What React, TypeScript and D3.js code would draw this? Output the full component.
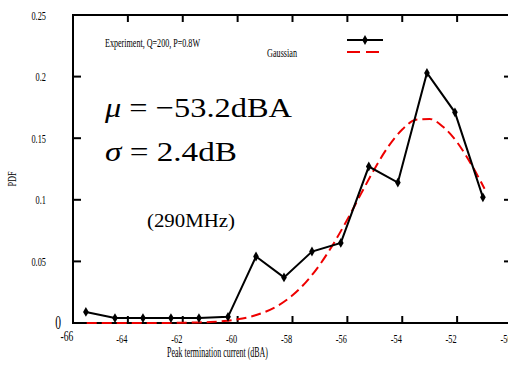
import * as d3 from "d3";

// experiment: bin centers (dBA) and measured PDF
const expX = [-65.53, -64.47, -63.45, -62.43, -61.41, -60.35, -59.33, -58.31, -57.29, -56.24, -55.22, -54.16, -53.1, -52.08, -51.06];
const expPdf = [0.009, 0.004, 0.004, 0.004, 0.004, 0.005, 0.054, 0.037, 0.058, 0.065, 0.127, 0.114, 0.203, 0.171, 0.102];

// gaussian fit
const fitX = [-65.5, -65, -64.5, -64, -63.5, -63, -62.5, -62, -61.5, -61, -60.5, -60, -59.5, -59, -58.5, -58, -57.5, -57, -56.5, -56, -55.5, -55, -54.5, -54, -53.5, -53, -52.5, -52, -51.5, -51];
const fitPdf = [0, 0, 0, 0, 0, 0, 0.0001, 0.0002, 0.0004, 0.0008, 0.0016, 0.003, 0.0053, 0.009, 0.0145, 0.0225, 0.0334, 0.0475, 0.0646, 0.0841, 0.105, 0.1255, 0.1435, 0.157, 0.165, 0.1656, 0.159, 0.1467, 0.1293, 0.109];

const xTicks = [-66, -64, -62, -60, -58, -56, -54, -52, -50];
const yTicks = [0, 0.05, 0.1, 0.15, 0.2, 0.25];
const yTickLabels = ["0", "0.05", "0.1", "0.15", "0.2", "0.25"];

const W = 508;
const H = 365;
const FONT = '"Liberation Serif", "Times New Roman", Times, "DejaVu Serif", serif';
const SQ = 0.64; // gnuplot's squeezed tick font

export default function App() {
  const x = d3.scaleLinear([-66, -50], [73, 512]);
  const y = d3.scaleLinear([0, 0.25], [323, 15]);

  const expLine = d3
    .line<number>()
    .x((d) => x(d))
    .y((_, i) => y(expPdf[i]))(expX);
  const fitLine = d3
    .line<number>()
    .x((d) => x(d))
    .y((_, i) => y(fitPdf[i]))
    .curve(d3.curveMonotoneX)(fitX);

  const diamond = d3.symbol(d3.symbolDiamond, 28)();
  const x0 = x.range()[0];
  const x1 = x.range()[1];
  const y0 = y.range()[0];
  const y1 = y.range()[1];
  const ts = { fontFamily: FONT };

  return (
    <svg
      width={W}
      height={H}
      style={{ position: "absolute", left: 0, top: 0, background: "#fff", fontFamily: FONT }}
    >
      {/* frame */}
      <rect x={x0} y={y1} width={x1 - x0} height={y0 - y1} fill="none" stroke="#000" strokeWidth={2} />

      {xTicks.slice(1, -1).map((t) => (
        <g key={t}>
          <line x1={x(t)} x2={x(t)} y1={y0} y2={y0 - 7} stroke="#000" strokeWidth={2} />
          <line x1={x(t)} x2={x(t)} y1={y1} y2={y1 + 7} stroke="#000" strokeWidth={2} />
        </g>
      ))}
      {yTicks.slice(1, -1).map((t) => (
        <g key={t}>
          <line x1={x0} x2={x0 + 8} y1={y(t)} y2={y(t)} stroke="#000" strokeWidth={2} />
          <line x1={x1 - 8} x2={x1} y1={y(t)} y2={y(t)} stroke="#000" strokeWidth={2} />
        </g>
      ))}

      {xTicks.map((t, i) => (
        <text
          key={t}
          style={ts}
          transform={`translate(${x(t) - 6},${i === 0 ? 341 : 343}) scale(${SQ},1)`}
          textAnchor="middle"
          fontSize={i === 0 ? 15 : 13}
          fill="#000"
        >
          {String(t)}
        </text>
      ))}
      {yTicks.map((t, i) => (
        <text
          key={t}
          style={ts}
          transform={`translate(${i === 0 ? 61 : 46},${y(t) + (i === 0 ? 6 : 4.5)}) scale(${SQ},1)`}
          textAnchor="end"
          fontSize={i === 0 ? 18 : 13}
          fill="#000"
        >
          {yTickLabels[i]}
        </text>
      ))}

      <text
        style={ts}
        transform={`translate(16,179) rotate(-90) scale(${SQ},1)`}
        textAnchor="middle"
        fontSize={13}
      >
        PDF
      </text>
      <text style={ts} x={167} y={357} fontSize={14} textLength={101} lengthAdjust="spacingAndGlyphs">
        Peak termination current (dBA)
      </text>

      {/* legend */}
      <text style={ts} x={105} y={47} fontSize={13} textLength={95} lengthAdjust="spacingAndGlyphs">
        Experiment, Q=200, P=0.8W
      </text>
      <text style={ts} x={267} y={57} fontSize={13} textLength={30} lengthAdjust="spacingAndGlyphs">
        Gaussian
      </text>
      <line x1={347} x2={383} y1={40} y2={40} stroke="#000" strokeWidth={2} />
      <path d={diamond!} transform="translate(365,40)" fill="#000" />
      <line x1={347} x2={383} y1={52} y2={52} stroke="#e00" strokeWidth={2} strokeDasharray="13,6" />

      {/* annotations */}
      <text style={ts} x={105} y={117} fontSize={28} fill="#000" textLength={187} lengthAdjust="spacingAndGlyphs">
        <tspan fontStyle="italic">μ</tspan> = −53.2dBA
      </text>
      <text style={ts} x={105} y={161} fontSize={28} fill="#000" textLength={132} lengthAdjust="spacingAndGlyphs">
        <tspan fontStyle="italic">σ</tspan> = 2.4dB
      </text>
      <text style={ts} x={147} y={227} fontSize={19} fill="#000" textLength={88} lengthAdjust="spacingAndGlyphs">
        (290MHz)
      </text>

      {/* curves */}
      <path d={fitLine!} fill="none" stroke="#e00" strokeWidth={2} strokeDasharray="10,5" />
      <path d={expLine!} fill="none" stroke="#000" strokeWidth={2} />
      {expX.map((d, i) => (
        <path key={i} d={diamond!} transform={`translate(${x(d)},${y(expPdf[i])})`} fill="#000" />
      ))}
    </svg>
  );
}
